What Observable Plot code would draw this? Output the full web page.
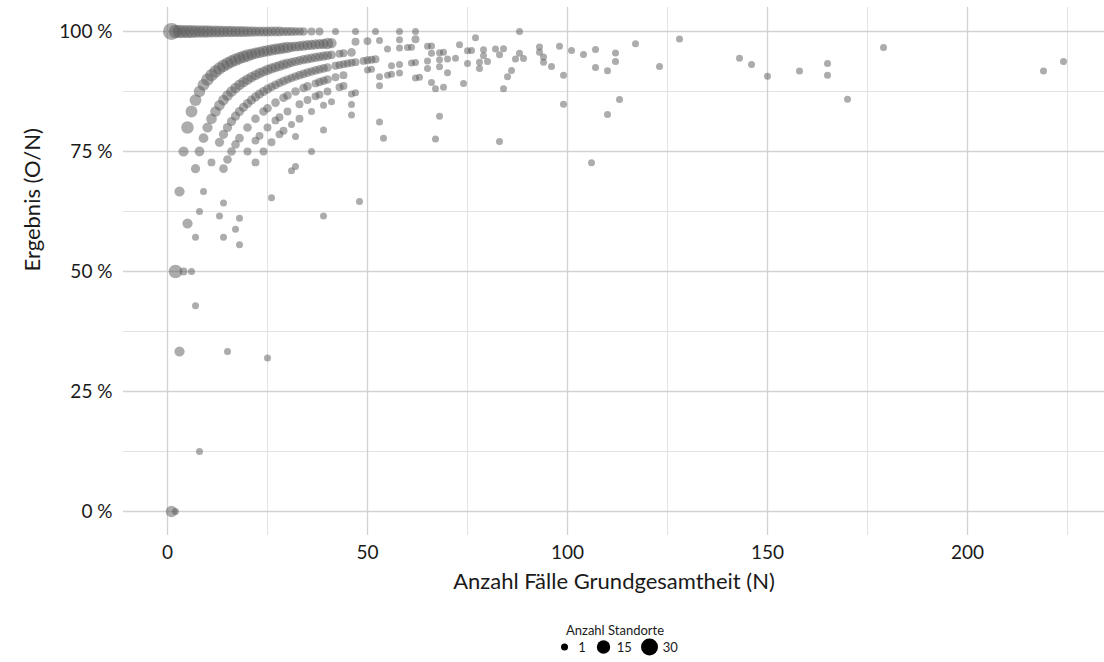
<!DOCTYPE html>
<html><head><meta charset="utf-8">
<script src="https://cdn.jsdelivr.net/npm/d3@7"></script>
<script src="https://cdn.jsdelivr.net/npm/@observablehq/plot@0.6"></script>
<style>
body{margin:0;background:#fff;font-family:Lato,"Open Sans",sans-serif;}
#wrap{position:relative;width:1104px;height:662px;overflow:hidden;}
#legend{position:absolute;left:465px;top:622px;width:300px;display:flex;flex-direction:column;align-items:center;font-size:13px;color:#1a1a1a;font-family:Lato,sans-serif;}
#legend .row{display:flex;align-items:center;margin-top:0px;margin-left:4px;}
#legend .row span{margin:0 9px 0 5px;}
#legend .row span:last-child{margin-right:0;}
</style></head><body>
<div id="wrap"><div id="chart"></div><div id="legend"></div></div>
<script>
// Ergebnis 100 % (O = N)
const vollN   = [1,2,3,4,5,6,7,8,9,10,11,12,13,14,15,16,17,18,19,20,21,22,23,24,25,26,27,28,29,30,31,32,33,34,36,38,42,47,52,58,62,88];
const vollAnz = [30,16,16,14,14,14,12,12,12,12,10,10,10,9,9,9,8,8,8,7,7,6,6,6,6,5,5,5,4,4,4,3,3,3,2,2,1,1,1,1,1,1];
// ein Fall fehlt (O = N - 1)
const fehlt1N   = [2,3,4,5,6,7,8,9,10,11,12,13,14,15,16,17,18,19,20,21,22,23,24,25,26,27,28,29,30,31,32,33,34,35,36,37,38,39,40,41,47,50,53,58,62,77];
const fehlt1Anz = [16,6,6,12,10,10,9,10,12,12,12,12,12,12,12,12,12,12,12,9,9,9,9,9,9,9,9,9,9,6,6,6,6,6,6,6,6,6,9,6,2,2,1,1,2,1];
// zwei Fälle fehlen (O = N - 2)
const fehlt2N   = [3,4,5,7,8,9,10,11,12,13,14,15,16,17,18,19,20,21,22,23,24,25,26,27,28,29,30,31,32,33,34,35,36,37,38,39,40,41,43,44,46,55,58,60,61,65,66,73];
const fehlt2Anz = [6,2,6,4,5,5,6,7,7,7,7,7,7,7,7,7,7,6,6,6,6,6,6,6,6,6,6,4,4,4,4,4,4,4,4,4,4,3,2,2,3,1,1,1,1,1,1,1];
// drei Fälle fehlen (O = N - 3)
const fehlt3N   = [6,7,8,9,11,13,14,15,16,17,18,19,20,21,22,23,24,25,26,27,28,29,30,31,32,33,34,35,36,37,38,39,40,42,43,44,45,46,47,49,50,51,52];
const fehlt3Anz = [1,1,1,1,2,4,4,4,4,4,4,4,4,4,4,4,4,4,3,3,3,3,3,3,3,3,3,3,3,3,3,3,3,2,2,2,2,2,2,2,2,2,2];
// vier Fälle fehlen (O = N - 4)
const fehlt4N   = [14,15,16,17,18,20,22,24,25,27,29,30,32,34,35,37,38,39,40,42,44,50,51];
const fehlt4Anz = [3,3,3,3,3,3,3,3,3,3,3,3,3,3,3,2,3,3,3,2,2,1,1];
// fünf Fälle fehlen (O = N - 5)
const fehlt5N   = [20,22,23,25,27,28,30,33,35,37,38,40,43,44,53,55,56];
const fehlt5Anz = [2,2,2,2,2,2,2,2,2,2,2,2,2,2,1,1,1];
// sechs Fälle fehlen (O = N - 6)
const fehlt6N   = [22,24,26,28,29,31,33,36,39,41,46,47];
const fehlt6Anz = [2,2,2,2,2,1,2,1,1,1,1,1];
// weitere Standortgruppen (N, O, Anzahl)
const weitereN   = [1,2,8,15,25,7,14,13,18,17,14,18,48,39,26,31,32,36,32,39,46,46,53,54,67,83,68,110,106,
  128,117,179,98,93,88,101,107,104,112,93,94,83,82,84,79,79,75,76,68,69,66,
  56,58,61,62,65,68,70,72,75,78,80,87,89,94,112,146,165,224,143,
  58,68,70,78,96,107,123,110,158,219,86,65,
  62,63,85,150,99,165,
  66,74,67,69,84,53,
  99,113,170];
const weitereO   = [0,0,1,5,8,3,9,8,11,10,8,10,31,24,17,22,23,27,25,31,39,38,43,42,52,64,56,91,77,
  126,114,173,95,90,84,97,103,99,107,89,89,79,79,81,76,75,72,73,65,66,63,
  52,54,57,58,61,64,66,68,70,73,75,82,84,88,105,136,154,210,135,
  53,63,64,72,89,99,114,101,145,201,79,60,
  56,57,77,136,90,150,
  59,66,59,61,74,47,
  84,97,146];
const weitereAnz = [9,1,1,1,1,1,1,1,1,1,1,1,1,1,1,1,1,1,1,1,1,1,1,1,1,1,1,1,1,
  1,1,1,1,1,1,1,1,1,1,1,1,1,1,1,1,1,1,1,1,1,1,
  1,1,1,1,1,1,1,1,1,1,1,1,1,1,1,1,1,1,1,
  1,1,1,1,1,1,1,1,1,1,1,1,
  1,1,1,1,1,1,
  1,1,1,1,1,1,
  1,1,1];

const xMajor = [0,50,100,150,200];
const xMinor = [25,75,125,175,225];
const yMajor = [0,0.25,0.5,0.75,1];
const yMinor = [0.125,0.375,0.625,0.875];
const legendWerte = [1,15,30];
const xTitel = "Anzahl Fälle Grundgesamtheit (N)";
const yTitel = "Ergebnis (O/N)";
const legendTitel = "Anzahl Standorte";

const rows = [];
function addArc(ns, anz, fehlt){ ns.forEach((n,i)=>rows.push({N:n, O:n-fehlt, anzahl:anz[i]})); }
addArc(vollN, vollAnz, 0);
addArc(fehlt1N, fehlt1Anz, 1);
addArc(fehlt2N, fehlt2Anz, 2);
addArc(fehlt3N, fehlt3Anz, 3);
addArc(fehlt4N, fehlt4Anz, 4);
addArc(fehlt5N, fehlt5Anz, 5);
addArc(fehlt6N, fehlt6Anz, 6);
weitereN.forEach((n,i)=>rows.push({N:n, O:weitereO[i], anzahl:weitereAnz[i]}));
rows.forEach(d=>d.anteil = d.O/d.N);

const font = "Lato, 'Open Sans', sans-serif";
const chart = Plot.plot({
  width:1104, height:605, marginTop:7, marginLeft:123, marginRight:0, marginBottom:70,
  style:{fontFamily:font, background:"white", color:"#1a1a1a", overflow:"visible"},
  x:{domain:[-11,234.25]},
  y:{domain:[-0.05,1.05]},
  r:{type:"sqrt", domain:[1,30], range:[3.5,8.5]},
  marks:[
    Plot.ruleX(xMinor,{stroke:"#e2e2e2", strokeWidth:1}),
    Plot.ruleY(yMinor,{stroke:"#e2e2e2", strokeWidth:1}),
    Plot.ruleX(xMajor,{stroke:"#d2d2d2", strokeWidth:1.3}),
    Plot.ruleY(yMajor,{stroke:"#d2d2d2", strokeWidth:1.3}),
    Plot.dot(rows,{x:"N", y:"anteil", r:"anzahl", fill:"#5a5a5a", fillOpacity:0.5, stroke:"none"}),
    Plot.axisX({ticks:xMajor, tickSize:0, tickPadding:10, fontSize:19, label:null, tickFormat:d=>String(d)}),
    Plot.axisY({ticks:yMajor, tickSize:0, tickPadding:11, fontSize:19, label:null, tickFormat:d=>`${Math.round(d*100)} %`}),
    Plot.text([xTitel],{x:null, y:null, text:d=>d, frameAnchor:"bottom", dy:53, fontSize:22}),
    Plot.text([yTitel],{x:null, y:null, text:d=>d, frameAnchor:"left", dx:-91, rotate:-90, fontSize:22})
  ]
});
document.getElementById("chart").appendChild(chart);

const rs = chart.scale("r");
const leg = document.getElementById("legend");
const t = document.createElement("div"); t.textContent = legendTitel; leg.appendChild(t);
const row = document.createElement("div"); row.className = "row"; leg.appendChild(row);
legendWerte.forEach(v=>{
  const r = rs.apply(v);
  const ns = "http://www.w3.org/2000/svg";
  const s = document.createElementNS(ns,"svg");
  s.setAttribute("width", 17); s.setAttribute("height", 18);
  const c = document.createElementNS(ns,"circle");
  c.setAttribute("cx", 8.5); c.setAttribute("cy", 9); c.setAttribute("r", r); c.setAttribute("fill","#000");
  s.appendChild(c); row.appendChild(s);
  const sp = document.createElement("span"); sp.textContent = v; row.appendChild(sp);
});
</script></body></html>
